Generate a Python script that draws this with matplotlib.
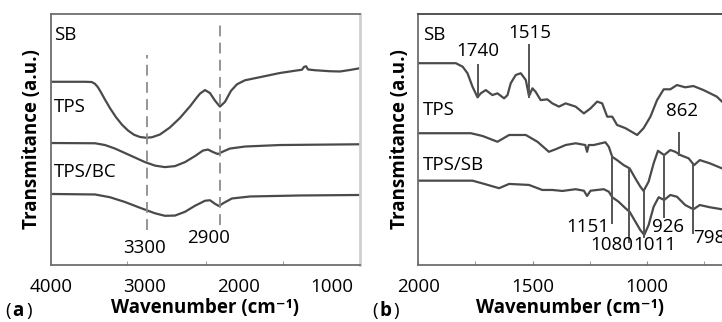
import matplotlib
matplotlib.use("Agg")
import matplotlib.pyplot as plt

plt.rcParams['font.family'] = ['Open Sans', 'DejaVu Sans']

# ---- panel (a): 4000-700 cm-1 ----
a_sb_x = [4000, 3634, 3563, 3528, 3496, 3464, 3421, 3368, 3304, 3240, 3176, 3112, 3048, 2984,
          2920, 2835, 2729, 2622, 2515, 2441, 2408, 2355, 2302, 2249, 2196, 2142, 2078, 2014,
          1929, 1748, 1556, 1396, 1321, 1300, 1278, 1257, 1183, 1023, 916, 810, 703]
a_sb_y = [73.0, 73.0, 72.9, 72.2, 70.8, 68.8, 65.9, 62.5, 58.9, 55.9, 53.6, 51.9, 51.0, 50.7,
          50.9, 52.0, 54.8, 58.6, 63.2, 66.8, 68.3, 69.7, 68.5, 65.5, 63.1, 65.0, 69.4, 72.0,
          73.6, 75.0, 76.5, 77.4, 77.8, 78.9, 79.2, 77.9, 77.6, 77.2, 77.1, 77.7, 78.4]
a_tps_x = [4000, 3527, 3421, 3315, 3208, 3101, 2995, 2888, 2782, 2675, 2568, 2462, 2377, 2324,
           2270, 2217, 2164, 2089, 1929, 1556, 703]
a_tps_y = [48.6, 48.5, 47.8, 46.4, 44.6, 42.8, 41.0, 39.6, 39.0, 39.4, 41.0, 43.4, 45.6, 46.0,
           45.0, 44.2, 45.2, 46.4, 47.2, 47.8, 48.1]
a_bc_x = [4000, 3527, 3368, 3208, 3048, 2888, 2782, 2675, 2568, 2462, 2355, 2302, 2249, 2207,
          2153, 2068, 1876, 1343, 703]
a_bc_y = [28.3, 28.1, 27.0, 25.1, 22.8, 20.6, 19.6, 19.7, 21.2, 23.6, 25.6, 25.8, 24.4, 23.5,
          24.8, 26.5, 27.3, 27.7, 27.9]

a_dash_x = [2977, 2196]
a_dash_top = [83.7, 96.4]
a_dash_bot = [13.9, 15.9]
a_dash_lab = ["3300", "2900"]
a_lab_xy = [(2995, 6.8), (2313, 10.8)]

a_names = ["SB", "TPS", "TPS/BC"]
a_name_y = [91.6, 62.9, 37.1]
a_ticks = [4000, 3000, 2000, 1000]
a_minor = [3190, 2345, 1525]

# ---- panel (b): 2000-670 cm-1 ----
b_sb_x = [2000, 1836, 1806, 1785, 1763, 1741, 1727, 1705, 1676, 1654, 1625, 1610, 1596, 1574,
          1552, 1530, 1516, 1501, 1487, 1465, 1436, 1414, 1385, 1356, 1312, 1276, 1247, 1218,
          1196, 1174, 1152, 1131, 1094, 1043, 1015, 985, 956, 927, 898, 869, 833, 797, 753,
          695, 672]
b_sb_y = [80.4, 80.4, 79.0, 76.4, 71.0, 66.8, 68.4, 69.7, 67.7, 68.4, 66.4, 67.7, 72.4, 75.7,
          76.4, 73.7, 67.3, 70.4, 69.0, 65.7, 66.0, 64.4, 63.1, 64.4, 63.1, 60.4, 62.4, 65.1,
          64.4, 59.1, 59.1, 55.8, 54.5, 51.8, 54.5, 59.1, 65.7, 70.0, 70.0, 71.7, 70.8, 71.3,
          69.7, 67.1, 65.1]
b_tps_x = [2000, 1770, 1719, 1654, 1603, 1530, 1479, 1429, 1400, 1356, 1312, 1270, 1262, 1255,
           1233, 1182, 1167, 1152, 1131, 1102, 1076, 1051, 1029, 1015, 993, 971, 952, 925, 898,
           876, 854, 818, 794, 769, 725, 672]
b_tps_y = [52.5, 52.5, 51.4, 49.1, 51.8, 51.8, 49.1, 45.1, 46.1, 47.8, 48.5, 47.8, 45.1, 47.8,
           47.8, 48.9, 47.1, 43.1, 41.8, 39.8, 38.5, 34.5, 31.2, 29.5, 33.2, 40.5, 45.5, 43.8,
           45.8, 45.1, 43.8, 42.5, 39.8, 41.8, 40.5, 38.5]
b_mix_x = [2000, 1763, 1719, 1647, 1603, 1516, 1458, 1414, 1370, 1312, 1276, 1262, 1247, 1189,
           1167, 1152, 1124, 1094, 1076, 1051, 1029, 1012, 993, 971, 949, 925, 898, 869, 833,
           797, 769, 725, 672]
b_mix_y = [33.6, 33.6, 32.5, 30.6, 32.3, 31.9, 29.9, 29.9, 29.5, 30.2, 29.6, 27.5, 29.6, 30.2,
           29.2, 27.0, 25.2, 22.6, 21.2, 17.3, 13.9, 12.0, 15.9, 23.2, 27.0, 25.9, 27.9, 27.2,
           23.9, 22.2, 23.9, 23.0, 22.2]

b_peaks = [1740, 1515, 1151, 1080, 1011, 926, 862, 798]
b_peak_top = [79.7, 87.6, 43.1, 38.6, 29.5, 43.8, 52.7, 39.8]
b_peak_bot = [66.9, 66.9, 16.6, 9.3, 11.3, 19.2, 43.8, 12.6]
b_lab_x = [1741, 1513, 1261, 1061, 1061, 906, 847, 797]
b_lab_y = [85.3, 92.4, 15.3, 8.0, 8.0, 15.3, 61.5, 10.9]
b_lab_ha = ["center", "center", "center", "right", "left", "center", "center", "left"]

b_names = ["SB", "TPS", "TPS/SB"]
b_name_y = [91.6, 61.8, 39.8]
b_ticks = [2000, 1500, 1000]

CURVE = "#4a4a4a"
FS = 13.5

fig = plt.figure(figsize=(7.22, 3.22), dpi=100)
ax1 = fig.add_axes([0.0702, 0.177, 0.4284, 0.7795])
ax2 = fig.add_axes([0.5794, 0.177, 0.4206, 0.7795])

# panel a
for xs, ys in [(a_sb_x, a_sb_y), (a_tps_x, a_tps_y), (a_bc_x, a_bc_y)]:
    ax1.plot(xs, ys, color=CURVE, lw=1.6, solid_joinstyle="round")
for x, t, b in zip(a_dash_x, a_dash_top, a_dash_bot):
    ax1.plot([x, x], [b, t], color="#8c8c8c", lw=1.3, ls=(0, (6, 3.5)))
for (x, y), s in zip(a_lab_xy, a_dash_lab):
    ax1.text(x, y, s, ha="center", va="center", fontsize=FS)
for s, y in zip(a_names, a_name_y):
    ax1.text(3965, y, s, ha="left", va="center", fontsize=FS)
ax1.set_xlim(4000, 703)
ax1.set_ylim(0, 100)
ax1.set_xticks(a_ticks)
ax1.set_xticks(a_minor, minor=True)
ax1.tick_params(axis="x", which="major", length=0, labelsize=FS, pad=9)
ax1.tick_params(axis="x", which="minor", direction="in", length=3, color="#888")
ax1.set_yticks([])
ax1.set_xlabel("Wavenumber (cm⁻¹)", fontsize=FS, fontweight="bold", labelpad=2)
ax1.set_ylabel("Transmitance (a.u.)", fontsize=FS, fontweight="bold", labelpad=6)
for side in ["left", "top", "bottom"]:
    ax1.spines[side].set_color("#6e6e6e")
    ax1.spines[side].set_linewidth(1.3)
ax1.spines["right"].set_color("#cfcfcf")
ax1.spines["right"].set_linewidth(2)

# panel b
for xs, ys in [(b_sb_x, b_sb_y), (b_tps_x, b_tps_y), (b_mix_x, b_mix_y)]:
    ax2.plot(xs, ys, color=CURVE, lw=1.6, solid_joinstyle="round")
for x, t, b in zip(b_peaks, b_peak_top, b_peak_bot):
    ax2.plot([x, x], [b, t], color="#555555", lw=1.4)
for x, y, s, ha in zip(b_lab_x, b_lab_y, b_peaks, b_lab_ha):
    ax2.text(x, y, str(s), ha=ha, va="center", fontsize=FS)
for s, y in zip(b_names, b_name_y):
    ax2.text(1981, y, s, ha="left", va="center", fontsize=FS)
ax2.set_xlim(2000, 672)
ax2.set_ylim(0, 100)
ax2.set_xticks(b_ticks)
ax2.set_xticks([1750, 1250, 750], minor=True)
ax2.tick_params(axis="x", which="both", direction="in", length=3, color="#888", labelsize=FS, pad=9)
ax2.set_yticks([])
ax2.set_xlabel("Wavenumber (cm⁻¹)", fontsize=FS, fontweight="bold", labelpad=2)
ax2.set_ylabel("Transmitance (a.u.)", fontsize=FS, fontweight="bold", labelpad=6)
ax2.spines["right"].set_visible(False)
ax2.spines["left"].set_color("#6e6e6e")
ax2.spines["bottom"].set_color("#6e6e6e")
ax2.spines["top"].set_color("#444444")
for side in ["left", "top", "bottom"]:
    ax2.spines[side].set_linewidth(1.3)

fig.text(0.007, 0.02, "(", fontsize=FS, va="baseline")
fig.text(0.017, 0.02, "a", fontsize=FS, fontweight="bold", va="baseline")
fig.text(0.036, 0.02, ")", fontsize=FS, va="baseline")
fig.text(0.515, 0.02, "(", fontsize=FS, va="baseline")
fig.text(0.525, 0.02, "b", fontsize=FS, fontweight="bold", va="baseline")
fig.text(0.545, 0.02, ")", fontsize=FS, va="baseline")

fig.savefig("out.png", dpi=100)
